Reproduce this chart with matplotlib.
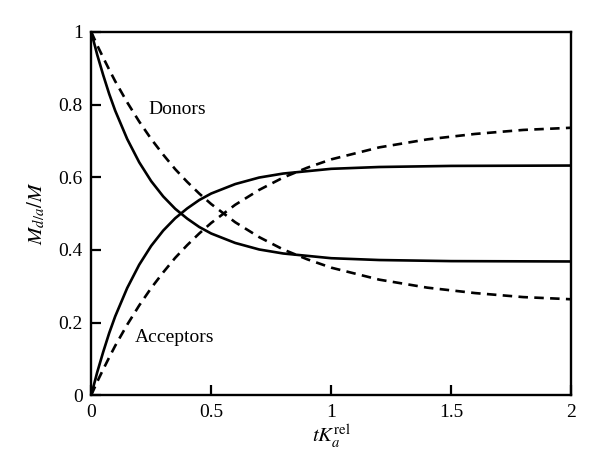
import matplotlib
matplotlib.use("Agg")
import matplotlib.pyplot as plt

plt.rcParams["font.family"] = ["Liberation Serif", "DejaVu Serif"]
plt.rcParams["mathtext.fontset"] = "stix"

# values
x_solid = [0, 0.025, 0.05, 0.075, 0.1, 0.15, 0.2, 0.25, 0.3, 0.35, 0.4, 0.45, 0.5,
           0.6, 0.7, 0.8, 1.0, 1.2, 1.5, 2.0]
donors_solid = [1.0, 0.937, 0.881, 0.829, 0.783, 0.705, 0.641, 0.589, 0.547, 0.513,
                0.486, 0.463, 0.445, 0.419, 0.401, 0.390, 0.377, 0.372, 0.369, 0.368]
acceptors_solid = [0.0, 0.063, 0.119, 0.171, 0.217, 0.295, 0.359, 0.411, 0.453, 0.487,
                   0.514, 0.537, 0.555, 0.581, 0.599, 0.610, 0.623, 0.628, 0.631, 0.632]

x_dash = [0, 0.025, 0.05, 0.075, 0.1, 0.15, 0.2, 0.25, 0.3, 0.35, 0.4, 0.45, 0.5, 0.6,
          0.7, 0.8, 0.9, 1.0, 1.2, 1.4, 1.6, 1.8, 2.0]
donors_dash = [1.0, 0.963, 0.929, 0.896, 0.864, 0.806, 0.753, 0.705, 0.662, 0.622,
               0.587, 0.555, 0.526, 0.476, 0.435, 0.401, 0.374, 0.351, 0.318, 0.296,
               0.281, 0.270, 0.264]
acceptors_dash = [0.0, 0.037, 0.071, 0.104, 0.136, 0.194, 0.247, 0.295, 0.338, 0.378,
                  0.413, 0.445, 0.474, 0.524, 0.565, 0.599, 0.626, 0.649, 0.682, 0.704,
                  0.719, 0.730, 0.736]

xticks = [0, 0.5, 1, 1.5, 2]
xtick_labels = ["0", "0.5", "1", "1.5", "2"]
yticks = [0, 0.2, 0.4, 0.6, 0.8, 1]
ytick_labels = ["0", "0.2", "0.4", "0.6", "0.8", "1"]

fig = plt.figure(figsize=(6, 4.75), dpi=100)
ax = fig.add_axes([0.152, 0.168, 0.8, 0.765])

ax.plot(x_solid, donors_solid, color="black", lw=1.9)
ax.plot(x_solid, acceptors_solid, color="black", lw=1.9)
ax.plot(x_dash, donors_dash, color="black", lw=1.9, dashes=(3.6, 2.4))
ax.plot(x_dash, acceptors_dash, color="black", lw=1.9, dashes=(3.6, 2.4))

ax.text(0.238, 0.774, "Donors", fontsize=14)
ax.text(0.18, 0.146, "Acceptors", fontsize=14)

ax.set_xlim(0, 2)
ax.set_ylim(0, 1)
ax.set_xticks(xticks)
ax.set_xticklabels(xtick_labels)
ax.set_yticks(yticks)
ax.set_yticklabels(ytick_labels)
ax.tick_params(direction="in", length=7, width=1.6, labelsize=14, pad=6)
for s in ax.spines.values():
    s.set_linewidth(1.7)

ax.set_xlabel(r"$tK_a^{\mathrm{rel}}$", fontsize=15, labelpad=2)
ax.set_ylabel(r"$M_{d/a}/M$", fontsize=15, labelpad=8)

fig.savefig("out.png", dpi=100)
